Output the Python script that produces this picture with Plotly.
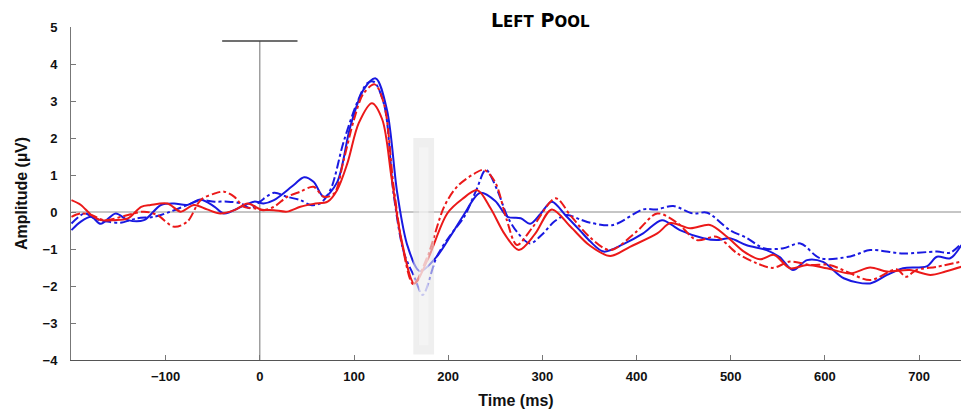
import plotly.graph_objects as go

# ---- data ----
bs_t = [-200,-190,-179,-169,-153,-140,-123,-105,-91,-77,-63,-48,-38,-20,-6,4,15,36,47,57,68,82,96,110,123,135,146,157,170,188,202,216,234,250,263,277,287,298,310,325,340,351,365,386,407,427,446,471,485,499,517,538,552,566,581,598,620,648,666,683,708,719,733,745]
bs_v = [-0.49,-0.26,-0.13,-0.32,-0.04,-0.22,-0.22,0.19,0.23,0.19,0.34,0.14,-0.04,0.14,0.28,0.23,0.32,0.73,0.94,0.82,0.41,0.8,2.3,3.3,3.61,2.76,0.5,-0.93,-1.6,-1.2,-0.67,-0.1,0.52,0.3,-0.13,-0.17,-0.32,-0.05,0.28,-0.1,-0.5,-0.8,-1.07,-0.87,-0.58,-0.22,-0.49,-0.71,-0.76,-0.71,-0.9,-1.03,-1.22,-1.57,-1.3,-1.35,-1.79,-1.93,-1.7,-1.52,-1.47,-1.21,-1.25,-0.89]

bd_t = [-200,-186,-176,-162,-148,-130,-112,-95,-77,-63,-48,-34,-20,-10,0,15,29,43,54,64,75,89,104,114,121,132,142,153,164,173,188,203,217,230,240,252,263,275,287,300,313,326,340,351,375,407,421,439,460,475,499,517,535,556,574,595,627,648,683,719,733,745]
bd_v = [-0.31,-0.04,-0.17,-0.26,-0.29,-0.17,-0.13,0.01,0.19,0.32,0.28,0.28,0.23,0.1,0.28,0.52,0.41,0.32,0.19,0.23,0.6,1.9,3.0,3.48,3.52,2.9,0.5,-1.1,-1.75,-2.24,-1.2,-0.6,-0.13,0.6,1.14,0.6,-0.13,-0.6,-0.85,-0.6,-0.25,-0.08,-0.2,-0.29,-0.35,0.07,0.07,0.16,-0.04,-0.02,-0.49,-0.7,-0.98,-0.98,-0.85,-1.25,-1.2,-1.03,-1.12,-1.07,-1.1,-0.85]

rs_t = [-200,-190,-179,-169,-155,-140,-126,-116,-98,-84,-70,-56,-42,-27,-13,1,15,29,43,57,72,82,93,105,119,130,140,150,164,178,199,215,231,245,260,275,292,310,330,350,372,393,422,436,457,478,496,514,531,546,563,581,602,627,648,666,690,712,728,745]
rs_v = [0.32,0.19,-0.08,-0.22,-0.22,-0.17,0.14,0.19,0.23,0.01,0.19,0.07,-0.04,0.05,0.23,0.07,0.05,0.01,0.14,0.22,0.28,0.59,1.32,2.4,2.94,2.5,0.9,-0.7,-1.93,-1.3,-0.04,0.35,0.59,0.1,-0.6,-1.03,-0.6,0.07,-0.4,-0.9,-1.19,-0.94,-0.58,-0.3,-0.44,-0.35,-0.67,-1.07,-1.28,-1.16,-1.52,-1.43,-1.52,-1.66,-1.5,-1.61,-1.57,-1.7,-1.61,-1.48]

rd_t = [-200,-190,-179,-165,-140,-123,-109,-91,-77,-63,-48,-38,-27,-17,-6,4,15,29,43,57,68,79,89,100,110,122,132,142,152,163,178,196,210,228,238,250,262,273,290,314,330,350,372,400,422,443,464,485,507,528,545,563,584,605,623,648,676,686,697,719,745]
rd_v = [-0.13,-0.04,-0.08,-0.22,-0.08,0.01,-0.08,-0.4,-0.26,0.32,0.5,0.55,0.41,0.14,0.1,0.05,0.14,0.41,0.55,0.68,0.41,0.5,1.4,2.5,3.2,3.45,2.9,0.7,-1.0,-1.95,-1.2,0.16,0.7,1.04,1.14,0.8,-0.2,-0.89,-0.4,0.37,-0.1,-0.67,-1.03,-0.53,-0.04,-0.29,-0.76,-0.67,-1.12,-1.39,-1.51,-1.34,-1.43,-1.43,-1.61,-1.84,-1.55,-1.75,-1.57,-1.48,-1.34]

x_ticks = [-100, 0, 100, 200, 300, 400, 500, 600, 700]
y_ticks = [-4, -3, -2, -1, 0, 1, 2, 3, 4, 5]

BLUE = "rgb(25,25,225)"
RED = "rgb(235,25,25)"

fig = go.Figure()
series = [
    (bd_t, bd_v, BLUE, "dashdot"),
    (bs_t, bs_v, BLUE, "solid"),
    (rd_t, rd_v, RED, "dashdot"),
    (rs_t, rs_v, RED, "solid"),
]
for t, v, c, d in series:
    fig.add_trace(go.Scatter(x=t, y=v, mode="lines",
                             line=dict(color=c, width=2, dash=d, shape="spline", smoothing=0.9),
                             showlegend=False, hoverinfo="skip"))

# reference lines
fig.add_shape(type="line", x0=-200, x1=745, y0=0, y1=0, line=dict(color="#8c8c8c", width=1), layer="below")
fig.add_shape(type="line", x0=0, x1=0, y0=-4, y1=4.62, line=dict(color="#707070", width=1), layer="below")
fig.add_shape(type="line", x0=-40, x1=40, y0=4.62, y1=4.62, line=dict(color="#404040", width=1.5), layer="below")
# shaded window
fig.add_shape(type="rect", x0=163, x1=185, y0=-3.85, y1=2.0, line=dict(width=0),
              fillcolor="rgba(228,228,228,0.6)", layer="above")
fig.add_shape(type="rect", x0=169, x1=179, y0=-3.6, y1=1.75, line=dict(width=0),
              fillcolor="rgba(250,250,250,0.5)", layer="above")

font_ticks = dict(family="Liberation Sans, Arial", size=13, color="#111111", weight="bold")
title_font = dict(family="Liberation Sans, Arial", size=16, color="#111111", weight="bold")
fig.update_layout(
    width=961, height=410,
    margin=dict(l=71, r=0, t=27, b=50),
    paper_bgcolor="white", plot_bgcolor="white",
    xaxis=dict(range=[-200.5, 744.5], tickvals=x_ticks, ticks="inside", ticklen=5,
               tickcolor="#777777", showline=True, linecolor="#555555", linewidth=1,
               showgrid=False, zeroline=False, tickfont=font_ticks,
               ticklabelstandoff=4,
               title=dict(text="Time (ms)", font=title_font, standoff=12)),
    yaxis=dict(range=[-4, 5], tickvals=y_ticks, ticks="inside", ticklen=5,
               tickcolor="#777777", showline=True, linecolor="#777777", linewidth=1,
               showgrid=False, zeroline=False, tickfont=font_ticks,
               ticklabelstandoff=10,
               title=dict(text="Amplitude (µV)", font=title_font, standoff=10)),
    font=dict(family="Liberation Sans, Arial"),
)

fig.add_annotation(xref="paper", yref="paper", x=0.527, y=1.021, xanchor="center", yanchor="middle",
                   showarrow=False,
                   text="<b>L<span style='font-size:15px'>EFT</span> P<span style='font-size:15px'>OOL</span></b>",
                   font=dict(family="DejaVu Sans", size=19, color="#000000"))

fig.write_html("out.html")
